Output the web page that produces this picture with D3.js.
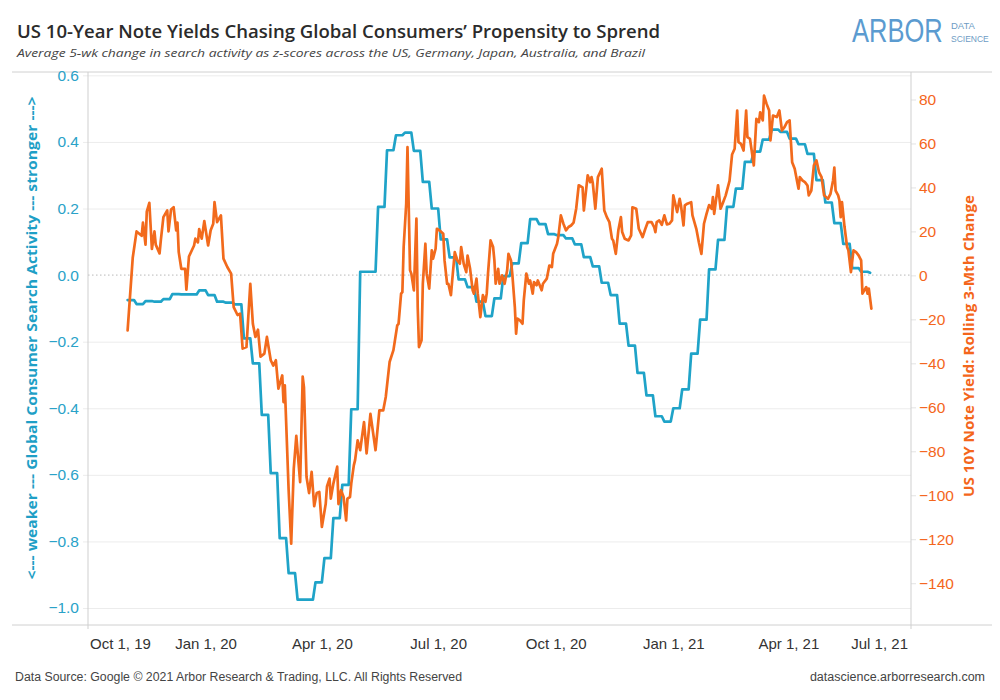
<!DOCTYPE html>
<html><head><meta charset="utf-8">
<script src="https://cdn.jsdelivr.net/npm/d3@7"></script>
<style>body{margin:0;background:#fff;} svg{display:block;}</style>
</head><body><svg id="chart" width="1000" height="700"></svg>
<script>
// ---------------- DATA ----------------
const searchStart = "2019-11-01";   // weekly series, one value per week
const searchValues = [-0.075,-0.087,-0.078,-0.080,-0.072,-0.057,-0.058,-0.058,-0.046,-0.060,
  -0.080,-0.083,-0.088,-0.190,-0.265,-0.420,-0.595,-0.790,-0.895,-0.975,
  -0.975,-0.923,-0.850,-0.730,-0.630,-0.403,0.010,0.010,0.205,0.375,
  0.420,0.428,0.373,0.280,0.200,0.107,0.053,-0.013,-0.036,-0.080,
  -0.123,-0.070,-0.003,0.035,0.096,0.168,0.153,0.123,0.120,0.110,
  0.092,0.054,0.026,-0.023,-0.060,-0.146,-0.212,-0.294,-0.361,-0.424,
  -0.440,-0.400,-0.343,-0.236,-0.134,0.017,0.106,0.205,0.260,0.340,
  0.371,0.407,0.437,0.430,0.410,0.393,0.364,0.285,0.218,0.156,
  0.094,0.021,0.010,0.007];

const yieldSeries = [["2019-11-01",-25],["2019-11-05",8],["2019-11-08",20],["2019-11-12",18],["2019-11-13",24],["2019-11-15",14],["2019-11-16",29],["2019-11-18",33],["2019-11-20",12],["2019-11-22",20],["2019-11-23",14],["2019-11-26",10],["2019-11-27",16],["2019-11-29",26.5],["2019-12-02",29.5],["2019-12-03",20],["2019-12-05",30],["2019-12-07",31],["2019-12-09",20.5],["2019-12-10",24],["2019-12-11",10.6],["2019-12-13",3],["2019-12-16",3],["2019-12-17",-6.5],["2019-12-19",8.6],["2019-12-23",13.6],["2019-12-24",16.7],["2019-12-26",15],["2019-12-27",21],["2019-12-29",16.7],["2019-12-31",24.7],
["2020-01-03",13.6],["2020-01-05",20.5],["2020-01-07",23.5],["2020-01-08",33.3],["2020-01-10",24.2],["2020-01-13",27.3],["2020-01-15",7.6],["2020-01-18",3.8],["2020-01-21",0.8],["2020-01-23",-14.4],["2020-01-26",-18],["2020-01-28",-17.4],["2020-01-30",-33.3],["2020-02-02",-32.6],["2020-02-05",-3.8],["2020-02-07",-22],["2020-02-09",-28],["2020-02-11",-24.7],["2020-02-13",-37],["2020-02-16",-35.6],["2020-02-18",-28],["2020-02-21",-38.6],["2020-02-23",-41],["2020-02-25",-38.6],["2020-02-27",-51.5],["2020-03-01",-45.5],["2020-03-02",-57.6],["2020-03-03",-50],["2020-03-06",-97.7],["2020-03-08",-122],["2020-03-10",-88],["2020-03-12",-73],["2020-03-15",-94],["2020-03-17",-46],["2020-03-18",-51],["2020-03-20",-91.7],["2020-03-22",-99],["2020-03-24",-89.4],["2020-03-26",-105],["2020-03-28",-99],["2020-03-30",-98.5],
["2020-04-01",-114.4],["2020-04-04",-104],["2020-04-05",-96],["2020-04-07",-92.4],["2020-04-08",-101.5],["2020-04-10",-94.7],["2020-04-13",-87],["2020-04-14",-104],["2020-04-16",-97.7],["2020-04-18",-100.8],["2020-04-20",-111.4],["2020-04-21",-101.5],["2020-04-23",-100.8],["2020-04-24",-94.7],["2020-04-26",-86.4],["2020-04-27",-84],["2020-04-29",-75],["2020-05-01",-79.5],["2020-05-04",-66.7],["2020-05-06",-81],["2020-05-08",-69],["2020-05-09",-63],["2020-05-13",-79.5],["2020-05-16",-61.4],["2020-05-19",-61.4],["2020-05-21",-55.3],["2020-05-24",-39.4],["2020-05-27",-34],["2020-05-30",-22.7],["2020-05-31",-22],["2020-06-02",-8.3],["2020-06-03",-7.6],["2020-06-04",12.9],["2020-06-06",32.6],["2020-06-07",58.3],["2020-06-09",2.3],["2020-06-10",0.8],["2020-06-12",-6.8],["2020-06-14",25.8],["2020-06-15",-14.4],["2020-06-16",-32.6],["2020-06-18",-29.5],["2020-06-19",-3.8],["2020-06-21",14.4],["2020-06-22",0.8],["2020-06-24",-6],["2020-06-26",11.4],["2020-06-27",7.6],["2020-06-29",12.1],["2020-06-30",21.2],
["2020-07-02",20.5],["2020-07-05",18.9],["2020-07-06",6.8],["2020-07-08",-3.8],["2020-07-09",-3.8],["2020-07-11",-9],["2020-07-12",-2.3],["2020-07-14",10.6],["2020-07-16",6.8],["2020-07-18",5.3],["2020-07-19",12.9],["2020-07-21",5.3],["2020-07-23",1.5],["2020-07-24",9],["2020-07-26",3],["2020-07-28",-6.8],["2020-07-29",-8.3],["2020-07-31",-1.5],["2020-08-01",-8.3],["2020-08-03",-19],["2020-08-05",-9],["2020-08-07",-12],["2020-08-08",-8.3],["2020-08-09",0.8],["2020-08-11",15.9],["2020-08-13",12.9],["2020-08-14",6.8],["2020-08-15",-3.8],["2020-08-17",3],["2020-08-18",-3.8],["2020-08-20",0],["2020-08-22",-3.8],["2020-08-24",2.3],["2020-08-25",9.8],["2020-08-27",6.8],["2020-08-28",0.8],["2020-08-30",-14.4],["2020-08-31",-26.5],["2020-09-01",-19.7],["2020-09-03",-20.5],["2020-09-05",-22],["2020-09-06",-11.4],["2020-09-08",0.8],["2020-09-10",-3.8],["2020-09-11",-2.3],["2020-09-13",-8.3],["2020-09-14",-3],["2020-09-16",-4.5],["2020-09-17",-2.3],["2020-09-20",-6.8],["2020-09-21",-3.8],["2020-09-24",-1.5],["2020-09-26",4.5],["2020-09-28",3.8],["2020-09-29",9.8],
["2020-10-02",14.4],["2020-10-03",17.4],["2020-10-05",27.3],["2020-10-07",23.5],["2020-10-09",20.5],["2020-10-11",22],["2020-10-13",22.7],["2020-10-15",24],["2020-10-17",30.3],["2020-10-19",41],["2020-10-22",40],["2020-10-23",29.5],["2020-10-26",45.5],["2020-10-28",42.4],["2020-10-29",44.7],["2020-10-30",42],["2020-11-01",30.3],["2020-11-03",44.7],["2020-11-06",48.5],["2020-11-08",29.5],["2020-11-10",26.5],["2020-11-12",24.2],["2020-11-14",16.7],["2020-11-15",15.9],["2020-11-17",9.8],["2020-11-19",20.5],["2020-11-21",26.5],["2020-11-22",19.7],["2020-11-24",16.7],["2020-11-27",15.9],["2020-11-29",18.2],["2020-11-30",31],["2020-12-03",30.3],["2020-12-05",21.2],["2020-12-08",17.4],["2020-12-10",21],["2020-12-12",24.2],["2020-12-15",24.2],["2020-12-17",22],["2020-12-18",19.7],["2020-12-19",24.2],["2020-12-21",25],["2020-12-23",23],["2020-12-25",27.3],["2020-12-27",23.2],["2020-12-29",23.5],["2020-12-31",25],
["2021-01-01",36.4],["2021-01-04",28.8],["2021-01-06",34.8],["2021-01-07",31.8],["2021-01-09",22.7],["2021-01-10",31.8],["2021-01-12",32.6],["2021-01-15",33.3],["2021-01-16",27.3],["2021-01-19",21.2],["2021-01-21",15.1],["2021-01-23",9.8],["2021-01-25",23.5],["2021-01-27",28],["2021-01-29",32],["2021-01-31",30.3],["2021-02-01",35.6],["2021-02-02",28],["2021-02-05",41],["2021-02-07",30.3],["2021-02-09",33.3],["2021-02-11",36.4],["2021-02-14",43],["2021-02-16",55],["2021-02-18",57.6],["2021-02-20",75],["2021-02-21",60.6],["2021-02-23",59.8],["2021-02-25",56.8],["2021-02-27",75],["2021-02-28",62.9],["2021-03-02",62.1],["2021-03-05",50],["2021-03-07",71.2],["2021-03-09",69.7],["2021-03-10",74.2],["2021-03-12",70.5],["2021-03-13",81.8],["2021-03-15",78],["2021-03-17",75],["2021-03-18",61.4],["2021-03-20",72.7],["2021-03-23",72],["2021-03-25",75],["2021-03-27",65.9],["2021-03-29",67.4],["2021-03-31",69.7],
["2021-04-02",70.5],["2021-04-04",51.5],["2021-04-06",48.5],["2021-04-08",42.4],["2021-04-09",39.4],["2021-04-10",44.7],["2021-04-12",43.2],["2021-04-14",42.4],["2021-04-16",40.9],["2021-04-17",36.4],["2021-04-19",38.6],["2021-04-21",50],["2021-04-23",52.3],["2021-04-25",47],["2021-04-27",44.7],["2021-04-29",36.4],["2021-05-02",34.8],["2021-05-04",37.1],["2021-05-06",43.2],["2021-05-07",49],["2021-05-08",38.6],["2021-05-10",36.4],["2021-05-11",34.1],["2021-05-12",26.5],["2021-05-13",33.3],["2021-05-15",22],["2021-05-17",12.9],["2021-05-18",11.4],["2021-05-20",1.5],["2021-05-22",11.4],["2021-05-24",10.6],["2021-05-26",9.1],["2021-05-28",6.8],["2021-05-29",-8.3],["2021-06-01",-5.3],["2021-06-02",-8.3],["2021-06-03",-6],["2021-06-05",-15.1]];

const leftTicks = [0.6,0.4,0.2,0.0,-0.2,-0.4,-0.6,-0.8,-1.0];
const rightTicks = [80,60,40,20,0,-20,-40,-60,-80,-100,-120,-140];
const xTickDates = ["2019-10-01","2020-01-01","2020-04-01","2020-07-01","2020-10-01","2021-01-01","2021-04-01","2021-07-01"];
const xDomain = ["2019-10-01","2021-07-06"];
const leftDomain = [-1.051, 0.61];
const rightDomain = [-159, 92.5];

const titleText = "US 10-Year Note Yields Chasing Global Consumers\u2019 Propensity to Sprend";
const subtitleText = "Average 5-wk change in search activity as z-scores across the US, Germany, Japan, Australia, and Brazil";
const leftAxisTitle = "<--- weaker --- Global Consumer Search Activity --- stronger --->";
const rightAxisTitle = "US 10Y Note Yield: Rolling 3-Mth Change";
const footLeft = "Data Source: Google \u00a9 2021 Arbor Research & Trading, LLC. All Rights Reserved";
const footRight = "datascience.arborresearch.com";

// ---------------- CHART ----------------
const parse = d3.timeParse("%Y-%m-%d");
const blueC = "#1fa3c8", orangeC = "#f26a1c";
const svg = d3.select("#chart");
const M = {left: 88, right: 911, top: 72, bottom: 625};

const x = d3.scaleTime().domain(xDomain.map(parse)).range([M.left, M.right]);
const yL = d3.scaleLinear().domain(leftDomain).range([M.bottom, M.top]);
const yR = d3.scaleLinear().domain(rightDomain).range([M.bottom, M.top]);

const start = parse(searchStart);
const searchData = searchValues.map((v, i) => ({date: d3.timeDay.offset(start, 7 * i), v}));
const yieldData = yieldSeries.map(([d, v]) => ({date: parse(d), v}));

// frame lines
svg.append("line").attr("x1", 12).attr("x2", 992).attr("y1", M.top).attr("y2", M.top).attr("stroke", "#d0d0d0");
svg.append("line").attr("x1", 12).attr("x2", 992).attr("y1", M.bottom).attr("y2", M.bottom).attr("stroke", "#d0d0d0");

// left gridlines + labels
const gL = svg.append("g").attr("transform", `translate(${M.left},0)`)
  .call(d3.axisLeft(yL).tickValues(leftTicks).tickFormat(d3.format(".1f")).tickSize(5).tickPadding(4));
gL.select(".domain").remove();
gL.selectAll(".tick line").attr("stroke", "#ececec").attr("x2", M.right - M.left)
  .attr("x1", -5).filter(d => d === 0).remove();
gL.selectAll(".tick text").attr("fill", "#2aa2c8").style("font-family", "'Liberation Sans', Arial, sans-serif").style("font-size", "15.5px");

// zero line dotted
svg.append("line").attr("x1", M.left).attr("x2", M.right).attr("y1", yL(0)).attr("y2", yL(0))
  .attr("stroke", "#b8b8b8").attr("stroke-dasharray", "1.5,2.5");

// right axis labels
const gR = svg.append("g").attr("transform", `translate(${M.right},0)`)
  .call(d3.axisRight(yR).tickValues(rightTicks).tickFormat(d3.format("d")).tickSize(5).tickPadding(3));
gR.select(".domain").remove();
gR.selectAll(".tick line").attr("stroke", "#e3e3e3");
gR.selectAll(".tick text").attr("fill", "#f4661b").style("font-family", "'Liberation Sans', Arial, sans-serif").style("font-size", "15.5px");

// axis lines
svg.append("line").attr("x1", M.left).attr("x2", M.left).attr("y1", M.top).attr("y2", M.bottom + 4).attr("stroke", "#cfcfcf");
svg.append("line").attr("x1", M.right).attr("x2", M.right).attr("y1", M.top).attr("y2", M.bottom + 4).attr("stroke", "#cfcfcf");

// x axis labels
const gX = svg.append("g").attr("transform", `translate(0,${M.bottom})`)
  .call(d3.axisBottom(x).tickValues(xTickDates.map(parse)).tickFormat(d3.timeFormat("%b %-d, %y")).tickSize(0).tickPadding(13));
gX.select(".domain").remove();
gX.selectAll(".tick text").attr("fill", "#333").style("font-family", "'Liberation Sans Narrow', 'Liberation Sans', Arial, sans-serif").style("font-size", "15px");
gX.selectAll(".tick").each(function () {
  const t = d3.select(this).select("text");
  const tr = d3.select(this).attr("transform");
  const tx = +tr.match(/translate\(([-\d.]+)/)[1];
  const b = t.node().getBBox();
  let left = tx + b.x;
  let shift = 0;
  if (left < M.left + 2) shift = M.left + 2 - left;
  if (left + b.width > M.right - 3) shift = (M.right - 3) - (left + b.width);
  t.attr("x", shift);
});

// custom step-like curve: hold the weekly value, then ramp to the next one
function holdRamp(rampPx) {
  return function (context) {
    let x0, y0, started = false;
    return {
      areaStart() {}, areaEnd() {},
      lineStart() { started = false; },
      lineEnd() {},
      point(px, py) {
        if (!started) { context.moveTo(px, py); started = true; }
        else { const r = Math.min(px - x0, rampPx); context.lineTo(px - r, y0); context.lineTo(px, py); }
        x0 = px; y0 = py;
      }
    };
  };
}
const rampPx = x(d3.timeDay.offset(start, 2.5)) - x(start);

svg.append("clipPath").attr("id", "clip").append("rect")
  .attr("x", M.left).attr("y", M.top).attr("width", M.right - M.left).attr("height", M.bottom - M.top);

const plot = svg.append("g").attr("clip-path", "url(#clip)");
plot.append("path").datum(searchData)
  .attr("d", d3.line().x(d => x(d.date)).y(d => yL(d.v)).curve(holdRamp(rampPx)))
  .attr("fill", "none").attr("stroke", blueC).attr("stroke-width", 2.7).attr("stroke-linejoin", "round").attr("stroke-linecap", "round");
plot.append("path").datum(yieldData)
  .attr("d", d3.line().x(d => x(d.date)).y(d => yR(d.v)))
  .attr("fill", "none").attr("stroke", orangeC).attr("stroke-width", 2.7).attr("stroke-linejoin", "round").attr("stroke-linecap", "round");

// axis titles
svg.append("text").attr("transform", `translate(37,338) rotate(-90)`).attr("text-anchor", "middle")
  .attr("fill", "#1f9fc6").style("font-family", "'Open Sans', sans-serif").style("font-weight", 700).style("font-size", "14px")
  .attr("textLength", 483).attr("lengthAdjust", "spacingAndGlyphs").text(leftAxisTitle);
svg.append("text").attr("transform", `translate(974,346) rotate(-90)`).attr("text-anchor", "middle")
  .attr("fill", "#f4661b").style("font-family", "'Open Sans', sans-serif").style("font-weight", 700).style("font-size", "14.5px")
  .attr("textLength", 302).attr("lengthAdjust", "spacingAndGlyphs").text(rightAxisTitle);

// titles
svg.append("text").attr("x", 17).attr("y", 38).attr("fill", "#2b2b2b")
  .style("font-family", "'Open Sans', sans-serif").style("font-weight", 600).style("font-size", "18.5px")
  .attr("textLength", 643).attr("lengthAdjust", "spacingAndGlyphs").text(titleText);
svg.append("text").attr("x", 17).attr("y", 57).attr("fill", "#444")
  .style("font-family", "'Open Sans', sans-serif").style("font-style", "italic").style("font-size", "11.5px")
  .attr("textLength", 628).attr("lengthAdjust", "spacingAndGlyphs").text(subtitleText);

// logo (word mark stretched vertically so its natural width stays ~92px)
svg.append("text").attr("transform", "translate(852,42) scale(1,1.32)").attr("fill", "#5b9bd0")
  .style("font-family", "'Liberation Sans', Arial, sans-serif").style("font-size", "25.5px")
  .text("ARBOR");
svg.append("text").attr("x", 951).attr("y", 29).attr("fill", "#6e9cc4")
  .style("font-family", "'Liberation Sans', Arial, sans-serif").style("font-size", "9.5px")
  .text("DATA");
svg.append("text").attr("x", 951).attr("y", 42).attr("fill", "#6e9cc4")
  .style("font-family", "'Liberation Sans', Arial, sans-serif").style("font-size", "8.5px")
  .text("SCIENCE");

// footer
svg.append("text").attr("x", 15).attr("y", 681).attr("fill", "#444")
  .style("font-family", "'Liberation Sans Narrow', 'Liberation Sans', Arial, sans-serif").style("font-size", "12.5px")
  .attr("textLength", 447).attr("lengthAdjust", "spacingAndGlyphs").text(footLeft);
svg.append("text").attr("x", 985).attr("y", 681).attr("text-anchor", "end").attr("fill", "#444")
  .style("font-family", "'Liberation Sans Narrow', 'Liberation Sans', Arial, sans-serif").style("font-size", "12.5px")
  .text(footRight);
</script>
</body></html>
